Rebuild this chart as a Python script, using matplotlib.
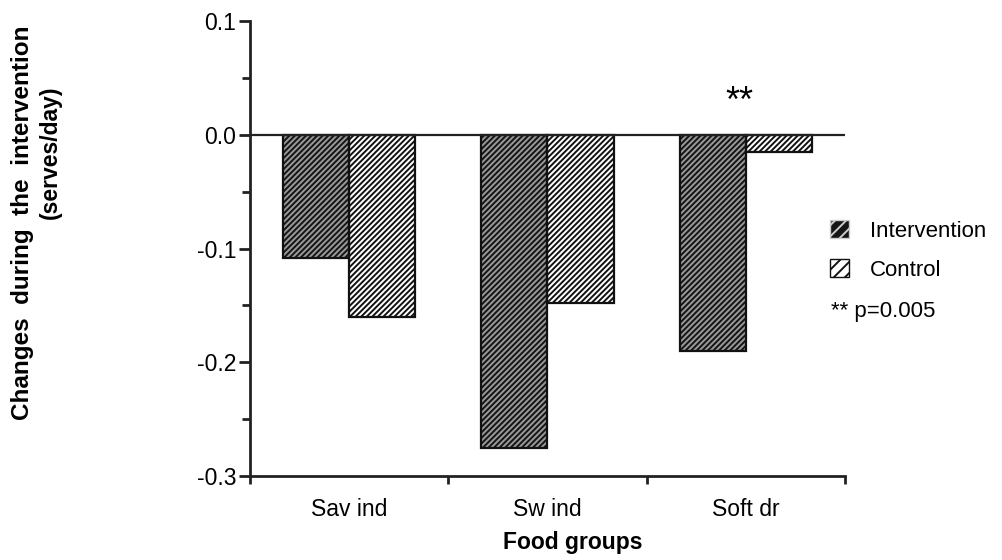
import matplotlib
matplotlib.use("Agg")
import matplotlib.pyplot as plt
from matplotlib.patches import Patch
import numpy as np

categories = ["Sav ind", "Sw ind", "Soft dr"]
intervention = [-0.108, -0.275, -0.190]
control = [-0.160, -0.148, -0.015]
series_labels = ["Intervention", "Control"]
yticks = [0.1, 0.0, -0.1, -0.2, -0.3]
ytick_labels = ["0.1", "0.0", "-0.1", "-0.2", "-0.3"]

plt.rcParams['font.family'] = ['Liberation Sans', 'DejaVu Sans']
plt.rcParams['hatch.linewidth'] = 1.4

fig = plt.figure(figsize=(10.03, 5.6), dpi=100)
ax = fig.add_axes([250/1003, 84/560, 595/1003, 455/560])

x = np.arange(len(categories)) + 0.5
w = 0.333
H = '//////'
int_face, int_hatch = '#151515', '#9a9a9a'

ax.bar(x - w/2, intervention, w, facecolor=int_face, edgecolor=int_hatch, hatch=H, linewidth=0)
ax.bar(x + w/2, control, w, facecolor='white', edgecolor='#111111', hatch=H, linewidth=0)
ax.bar(x - w/2, intervention, w, fill=False, edgecolor='#111111', linewidth=1.6)
ax.bar(x + w/2, control, w, fill=False, edgecolor='#111111', linewidth=1.6)

ax.axhline(0, color='#222222', linewidth=1.6, zorder=3)

ax.set_xlim(0, 3)
ax.set_ylim(-0.3, 0.1)
for s in ['top', 'right']:
    ax.spines[s].set_visible(False)
for s in ['left', 'bottom']:
    ax.spines[s].set_linewidth(2)
    ax.spines[s].set_color('#222222')

ax.set_yticks(yticks)
ax.set_yticklabels(ytick_labels, fontsize=16.5)
ax.set_yticks([0.05, -0.05, -0.15, -0.25], minor=True)
ax.tick_params(axis='y', which='major', length=8, width=2, direction='out', color='#222222', pad=2)
ax.tick_params(axis='y', which='minor', length=6, width=2, direction='out', color='#222222')

ax.set_xticks([0, 1, 2, 3])
ax.set_xticklabels([])
ax.set_xticks(x, minor=True)
ax.set_xticklabels(categories, minor=True, fontsize=16.5)
ax.tick_params(axis='x', which='major', length=6, width=2, direction='out', color='#222222')
ax.tick_params(axis='x', which='minor', length=0, pad=16)

ax.text(x[2] - 0.03, 0.028, "**", ha='center', va='center', fontsize=26)

fig.text(573/1003, 1 - 542/560, "Food groups", ha='center', va='center', fontsize=16.5, fontweight='bold')
fig.text(23/1003, 1 - 223/560, "Changes  during  the  intervention", rotation=90,
         ha='center', va='center', fontsize=17.5, fontweight='bold')
fig.text(50/1003, 1 - 152/560, "(serves/day)", rotation=90,
         ha='center', va='center', fontsize=16.5, fontweight='bold')

handles = [Patch(facecolor=int_face, edgecolor='#cccccc', hatch='///'),
           Patch(facecolor='white', edgecolor='#111111', hatch='///')]
leg = fig.legend(handles, series_labels, loc='upper left', bbox_to_anchor=(810/1003, 1 - 200/560),
                 frameon=False, fontsize=16, handlelength=0.85, handleheight=0.85,
                 handletextpad=0.95, labelspacing=0.8)
fig.text(831/1003, 1 - 311/560, "** p=0.005", ha='left', va='center', fontsize=16)

fig.savefig("out.png", dpi=100)
